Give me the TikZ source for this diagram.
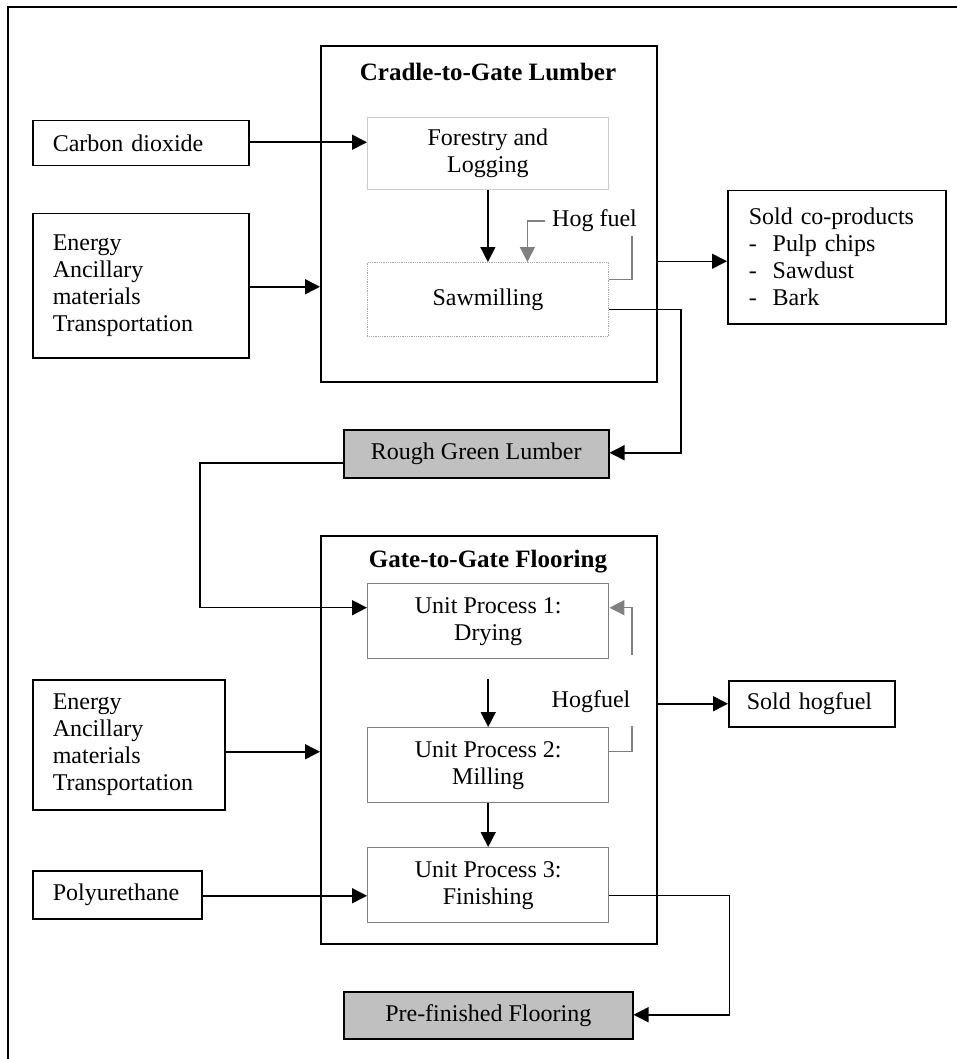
\documentclass[tikz,border=0pt]{standalone}
\usepackage{fontspec}
\setmainfont{Liberation Serif}
\usetikzlibrary{arrows.meta,calc}
\definecolor{boxgray}{HTML}{C0C0C0}
\definecolor{linegray}{HTML}{808080}
\begin{document}
\begin{tikzpicture}[x=1pt,y=-1pt,
  every node/.style={font=\fontsize{24}{27}\selectfont},
  inbox/.style={draw=black,line width=1.5pt,inner sep=0pt,align=left},
  leftbox/.style={inbox,anchor=north west,inner xsep=20pt,text width=#1},
  framebox/.style={draw=black,line width=1.6pt,anchor=north west,inner sep=0pt},
  lightbox/.style={draw=black!20,line width=0.8pt,anchor=north west,inner sep=0pt,align=center},
  dotbox/.style={draw=black!35,densely dotted,line width=0.8pt,anchor=north west,inner sep=0pt,align=center},
  unitbox/.style={draw=linegray,line width=1.4pt,anchor=north west,inner sep=0pt,align=center},
  prodbox/.style={draw=black,fill=boxgray,line width=1.5pt,anchor=north west,inner sep=0pt},
  arr/.style={draw=black,line width=1.5pt,-{Triangle[length=15pt,width=15pt]}},
  garr/.style={draw=linegray,line width=1.4pt,-{Triangle[length=15pt,width=15pt]}},
  gline/.style={draw=linegray,line width=1.4pt},
  bline/.style={draw=black,line width=1.5pt},
  title/.style={font=\fontsize{25}{28}\selectfont\bfseries,inner sep=0pt}
]
\useasboundingbox (0,0) rectangle (957,1059);
% outer frame (top and left only)
\coordinate (fbl) at (8,1059);
\coordinate (ftl) at (8,7);
\coordinate (ftr) at (957,7);
\draw[line width=2.4pt] (fbl) -- (ftl) -- (ftr);

% system boundaries
\node[framebox,minimum width=336pt,minimum height=336pt] (cradle) at (320,45) {};
\node[title] (ctitle) at (488,72) {Cradle-to-Gate Lumber};
\node[framebox,minimum width=336pt,minimum height=408pt] (gate) at (320,535) {};
\node[title] (gtitle) at (488,562) {Gate-to-Gate Flooring};

% upper inputs
\node[leftbox=176pt,minimum height=45pt] (co) at (32,120) {Carbon dioxide};
\node[leftbox=176pt,minimum height=144pt] (en1) at (32,213) {Energy\\Ancillary\\materials\\Transportation};

% upper processes
\node[lightbox,minimum width=241pt,minimum height=72pt] (fl) at (367,117) {Forestry and\\Logging};
\node[dotbox,minimum width=241pt,minimum height=74pt] (saw) at (367,262) {Sawmilling};
\node[anchor=west,inner sep=0pt] (hog) at (552,221) {Hog fuel};
\coordinate (hogend) at (632,236);

% sold co-products
\node[leftbox=176pt,minimum height=133pt,inner xsep=21pt] (sold) at (727,190)
  {Sold co-products\\\makebox[24pt][l]{-}Pulp chips\\\makebox[24pt][l]{-}Sawdust\\\makebox[24pt][l]{-}Bark};

% rough green lumber
\node[prodbox,minimum width=265pt,minimum height=48pt] (rgl) at (343,429) {Rough Green Lumber};

% lower inputs
\node[leftbox=152pt,minimum height=130pt] (en2) at (32,679) {Energy\\Ancillary\\materials\\Transportation};
\node[leftbox=129pt,minimum height=48pt] (poly) at (32,870) {Polyurethane};

% unit processes
\node[unitbox,minimum width=241pt,minimum height=75pt] (up1) at (367,583) {Unit Process 1:\\Drying};
\node[unitbox,minimum width=241pt,minimum height=75pt] (up2) at (367,727) {Unit Process 2:\\Milling};
\node[unitbox,minimum width=241pt,minimum height=75pt] (up3) at (367,847) {Unit Process 3:\\Finishing};
\node[inner sep=0pt] (hf) at (591,702) {Hogfuel};
\coordinate (hfend) at (632,726);
\coordinate (hfstart) at (632,655);

% sold hogfuel
\node[leftbox=130pt,minimum height=46pt,inner xsep=18pt] (shf) at (728,680) {Sold hogfuel};

% pre-finished flooring
\node[prodbox,minimum width=289pt,minimum height=47pt] (pf) at (343,991) {Pre-finished Flooring};

% connectors upper
\draw[arr] ([yshift=1pt]co.east) -- ([yshift=1pt]co.east -| fl.west);
\draw[arr] ([yshift=-1pt]en1.east) -- ([yshift=-1pt]en1.east -| cradle.west);
\draw[arr] (fl.south) -- (saw.north);
\draw[garr] ([xshift=-7pt]hog.west) -| ([xshift=39.5pt]saw.north);
\draw[gline] ([yshift=20pt]saw.east) -| (hogend);
\draw[arr] ([yshift=-10pt]saw.east) -- ++(72,0) |- ([yshift=1pt]rgl.east);
\draw[arr] ([yshift=-4pt]sold.west -| cradle.east) -- ([yshift=-4pt]sold.west);

% connectors lower
\draw[arr] ([yshift=-9pt]rgl.west) -- ++(-143,0) |- ([yshift=13.5pt]up1.west);
\draw[arr] ([yshift=-20pt]up1.south) -- (up2.north);
\draw[gline] ([yshift=13.5pt]up2.east) -| (hfend);
\draw[garr] (hfstart) |- ([yshift=13.5pt]up1.east);
\draw[arr] (shf.west -| gate.east) -- (shf.west);
\draw[arr] ([yshift=-7pt]en2.east) -- ([yshift=-7pt]en2.east -| gate.west);
\draw[arr] (up2.south) -- (up3.north);
\draw[arr] ([yshift=-1pt]poly.east) -- ([yshift=-1pt]poly.east -| up3.west);
\draw[arr] ([yshift=-10.5pt]up3.east) -- ++(120,0) |- ([yshift=0.5pt]pf.east);
\end{tikzpicture}
\end{document}
